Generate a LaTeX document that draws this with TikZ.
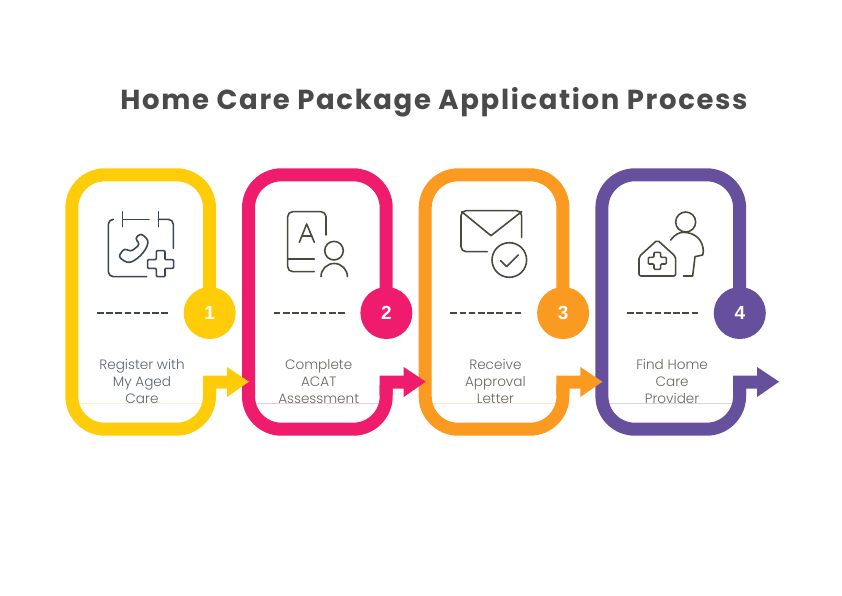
\documentclass[tikz,border=0pt]{standalone}
\usepackage{fontspec}
\setmainfont{Poppins Light}
\newfontfamily\titlefont[LetterSpace=6]{Poppins}
\newfontfamily\numfont{Liberation Sans}
\definecolor{careyellow}{HTML}{FFCC0A}
\definecolor{carepink}{HTML}{EF1B6C}
\definecolor{careorange}{HTML}{FB9A20}
\definecolor{carepurple}{HTML}{66509E}
\definecolor{titlegray}{HTML}{4A4A4A}
\definecolor{slateink}{HTML}{3A4656}
\definecolor{oliveink}{HTML}{4A4A3C}
\tikzset{
    cardpath/.style={line width=13pt, rounded corners=33pt},
    badge/.style={circle, minimum size=52pt, inner sep=0pt, text=white, font=\numfont\bfseries\fontsize{19}{20}\selectfont},
    steplabel/.style={align=center, font=\fontsize{13.6}{17}\selectfont, inner sep=0pt},
    iconline/.style={line width=1.6pt, line cap=round, line join=round},
    zoomgrid/.style={x=0.3333pt, y=-0.3333pt}
}
\begin{document}
\begin{tikzpicture}[x=1pt, y=-1pt]
        \useasboundingbox (0,0) rectangle (842,595);

        % Title
        \node[font=\titlefont\bfseries\fontsize{27.5}{30}\selectfont, text=titlegray, inner sep=0pt] (title) at (434,102.5) {Home Care Package Application Process};

        % Cards, last one first so each arrow tip lies over the next card
        \foreach \n/\col/\ink/\txt in {3/carepurple/oliveink/{Find Home\\Care\\Provider},
                                       2/careorange/oliveink/{Receive\\Approval\\Letter},
                                       1/carepink/oliveink/{Complete\\ACAT\\Assessment},
                                       0/careyellow/slateink/{Register with\\My Aged\\Care}} {
            \begin{scope}[xshift=\n*176.7pt]
                % Faint rule
                \draw[\col!25, line width=0.5pt] (79,403.3) -- (203,403.3);
                % Frame
                \draw[\col, cardpath] (209.5,300) -- (209.5,174.8) -- (71.8,174.8) -- (71.8,429.2) -- (209.5,429.2) -- (209.5,385);
                % Arrow out
                \fill[\col] (203,375.5) -- (227,375.5) -- (227,367) -- (249,381.7) -- (227,397) -- (227,388.5) -- (216,388.5) -- (216,395) -- (203,395) -- cycle;
                % Number
                \node[badge, fill=\col] (badge\n) at (209.7,313) {\pgfmathparse{int(\n+1)}\pgfmathresult};
                % Dashes
                \draw[\ink, line width=1.4pt, dash pattern=on 6.6pt off 2.6pt] (97,313) -- (169,313);
                % Text
                \node[steplabel, text=\ink!85] (label\n) at (142,382.6) {\strut\txt\strut};
            \end{scope}
        }

        % Phone calendar
        \begin{scope}[shift={(50,160)}, zoomgrid, iconline, slateink]
            \draw[rounded corners=5pt] (190,178) -- (175,178) -- (175,350) -- (290,350);
            \draw (218,155) -- (218,200) (218,178) -- (297,178);
            \draw (325,155) -- (325,200);
            \draw[rounded corners=5pt] (325,178) -- (370,178) -- (370,265);
            \draw[rounded corners=1pt] (319,272) -- (345,272) -- (345,299) -- (371,299) -- (371,325) -- (345,325) -- (345,350) -- (319,350) -- (319,325) -- (293,325) -- (293,299) -- (319,299) -- cycle;
            \draw[rounded corners=3pt] (255,235) -- (273,220) -- (295,240) .. controls (290,275) and (255,305) .. (230,308) -- (205,290) -- (223,265) -- (243,275) -- (270,253) -- cycle;
        \end{scope}

        % Assessment book
        \begin{scope}[shift={(270,200)}, zoomgrid, iconline, oliveink]
            \draw[rounded corners=5pt] (168,105) -- (168,35) -- (53,35) -- (53,215) -- (133,215);
            \draw (53,177) -- (133,177);
            \draw (88,127) -- (110,72) -- (133,127) (95,108) -- (126,108);
            \draw (192,152) circle[radius=9.3pt];
            \draw (153,230) arc[start angle=180, end angle=0, radius=13.2pt];
        \end{scope}

        % Letter with tick
        \begin{scope}[shift={(270,200)}, zoomgrid, iconline, oliveink]
            \draw[rounded corners=5pt] (652,155) -- (573,155) -- (573,32) -- (755,32) -- (755,112);
            \draw (575,35) -- (663,107) -- (755,35);
            \draw (718,180) circle[radius=17.3pt];
            \draw (692,182) -- (710,200) -- (745,165);
        \end{scope}

        % House and person
        \begin{scope}[shift={(620,200)}, zoomgrid, iconline, oliveink]
            \draw (197,66) circle[radius=10pt];
            \draw (152,120) .. controls (165,103) and (178,97) .. (190,97) .. controls (225,97) and (250,120) .. (250,155) -- (248,165) -- (225,170) -- (218,228) -- (190,228);
            \draw[rounded corners=2pt] (57,170) -- (112,120) -- (167,170) -- (167,228) -- (57,228) -- cycle;
            \draw[rounded corners=1pt] (102,157) -- (122,157) -- (122,172) -- (139,172) -- (139,192) -- (122,192) -- (122,208) -- (102,208) -- (102,192) -- (85,192) -- (85,172) -- (102,172) -- cycle;
        \end{scope}
\end{tikzpicture}
\end{document}
